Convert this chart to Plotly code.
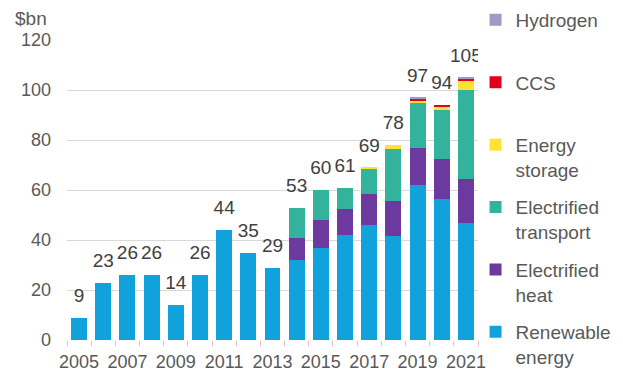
import plotly.graph_objects as go

years = list(range(2005, 2022))
renewable = [9, 23, 26, 26, 14, 26, 44, 35, 29, 32, 37, 42, 46, 41.5, 62, 56.5, 47]
heat = [0, 0, 0, 0, 0, 0, 0, 0, 0, 9, 11, 10.5, 12.5, 14, 15, 16, 17.5]
transport = [0, 0, 0, 0, 0, 0, 0, 0, 0, 12, 12, 8.5, 10, 21, 18, 19.5, 35.5]
storage = [0, 0, 0, 0, 0, 0, 0, 0, 0, 0, 0, 0, 0.5, 1.5, 0.7, 1.5, 3.7]
ccs = [0, 0, 0, 0, 0, 0, 0, 0, 0, 0, 0, 0, 0, 0, 1, 0.5, 1]
hydrogen = [0, 0, 0, 0, 0, 0, 0, 0, 0, 0, 0, 0, 0, 0, 0.3, 0, 0.3]
totals = [9, 23, 26, 26, 14, 26, 44, 35, 29, 53, 60, 61, 69, 78, 97, 94, 105]
tick_years = [2005, 2007, 2009, 2011, 2013, 2015, 2017, 2019, 2021]

series = [
    ("Renewable<br>energy", renewable, "#12A2DB"),
    ("Electrified<br>heat", heat, "#6C3A9E"),
    ("Electrified<br>transport", transport, "#33B29C"),
    ("Energy<br>storage", storage, "#FFE233"),
    ("CCS<br> ", ccs, "#E3001B"),
    ("Hydrogen<br> ", hydrogen, "#9C9CC4"),
]

FONT = "Liberation Sans, Arial, sans-serif"
fig = go.Figure()
n = len(series)
for i, (name, vals, color) in enumerate(series):
    fig.add_trace(go.Bar(x=years, y=vals, name=name, marker_color=color,
                         marker_line_width=0, legendgroup=str(i),
                         legendrank=1000 + (n - i)))

fig.add_trace(go.Scatter(x=years, y=totals, mode="markers+text",
                         text=[str(t) for t in totals], textposition="top center",
                         marker=dict(size=16, opacity=0),
                         textfont=dict(size=19, color="#404040", family=FONT),
                         showlegend=False, hoverinfo="skip"))

fig.update_layout(
    width=615, height=364,
    margin=dict(l=59, r=145, t=32, b=32, autoexpand=False),
    barmode="stack", bargap=0.34,
    plot_bgcolor="white", paper_bgcolor="white",
    font=dict(family=FONT, size=18, color="#595959"),
    legend=dict(x=0.994, xanchor="left", y=1.13, yanchor="top",
                traceorder="grouped", tracegroupgap=10, valign="top",
                maxheight=420, bgcolor="rgba(0,0,0,0)",
                font=dict(size=19, color="#595959")),
    showlegend=True,
    annotations=[dict(text="$bn", x=-0.131, xref="paper", y=1.073, yref="paper",
                      xanchor="left", yanchor="middle", showarrow=False,
                      font=dict(size=19, color="#595959"))],
)
fig.update_xaxes(range=[2004.5, 2021.5], tickmode="array", tickvals=tick_years,
                 ticktext=[str(y) for y in tick_years], ticks="", showgrid=False,
                 zeroline=False, showline=False, ticklabelstandoff=9,
                 tickfont=dict(size=18),
                 minor=dict(tickmode="array", tickvals=[y - 0.5 for y in years] + [2021.5],
                            ticks="outside", ticklen=5, tickcolor="#F2B8C6", tickwidth=1,
                            showgrid=False))
fig.update_yaxes(range=[0, 120], dtick=20, showgrid=True, gridcolor="#D9D9D9",
                 gridwidth=1, zeroline=False, ticks="", ticklabelstandoff=15)

fig.write_html("out.html")
